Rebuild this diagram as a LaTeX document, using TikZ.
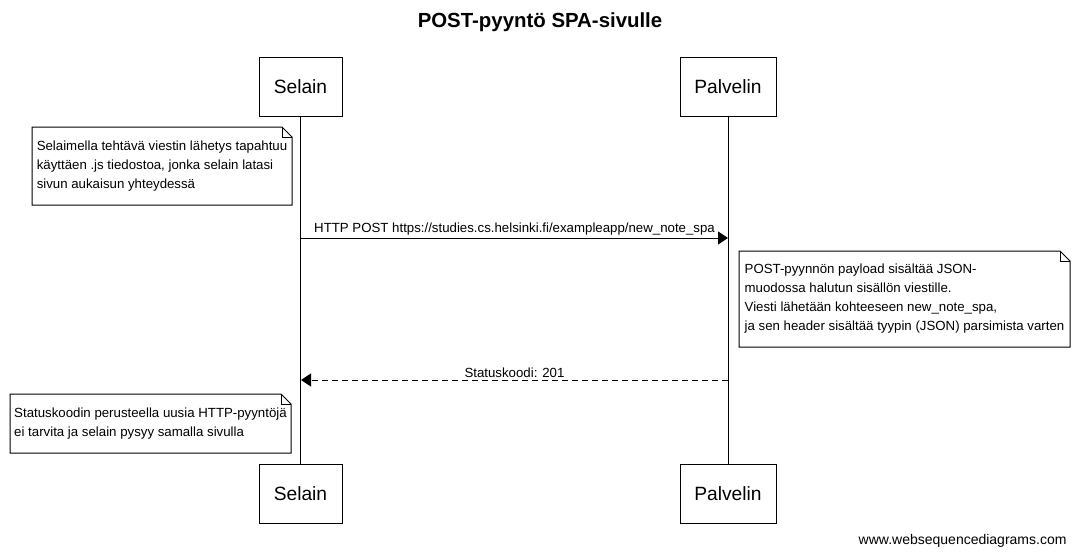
\documentclass[tikz,border=0pt]{standalone}
\usepackage{fontspec}
\setmainfont{Liberation Sans}
\usetikzlibrary{arrows.meta,calc}
\begin{document}
\begin{tikzpicture}[x=1pt,y=-1pt,line width=1pt,
	actor/.style={draw,minimum width=#1,minimum height=59,inner sep=0,font=\fontsize{19.2}{23}\selectfont},
	notebox/.style={anchor=north west,minimum height=#1,inner sep=0,align=left,font=\fontsize{13.25}{19}\selectfont},
	msg/.style={-{Triangle[length=10,width=13]}},
	msglabel/.style={above,inner sep=2,font=\fontsize{13.25}{15}\selectfont}]
	\useasboundingbox (0,0) rectangle (1077,557);
	\node[font=\bfseries\fontsize{20.4}{24}\selectfont] (title) at (540,22) {POST-pyyntö SPA-sivulle};
	% osapuolet
	\node[actor=83] (selainT) at (300.5,86.5) {Selain};
	\node[actor=96] (palvelinT) at (728,86.5) {Palvelin};
	\node[actor=83] (selainB) at (300.5,494) {Selain};
	\node[actor=96] (palvelinB) at (728,494) {Palvelin};
	\draw (selainT) -- (selainB);
	\draw (palvelinT) -- (palvelinB);
	% muistiinpanot
	\node[notebox=77,minimum width=259] (note1) at (32,127) {Selaimella tehtävä viestin lähetys tapahtuu\\käyttäen .js tiedostoa, jonka selain latasi\\sivun aukaisun yhteydessä};
	\node[notebox=95,minimum width=330] (note2) at (739,251) {POST-pyynnön payload sisältää JSON-\\muodossa halutun sisällön viestille.\\Viesti lähetään kohteeseen new\_note\_spa,\\ja sen header sisältää tyypin (JSON) parsimista varten};
	\node[notebox=58,minimum width=280] (note3) at (10,394) {Statuskoodin perusteella uusia HTTP-pyyntöjä\\ei tarvita ja selain pysyy samalla sivulla};
	\foreach \n in {note1,note2,note3} {
		\draw (\n.south west) -- (\n.north west) -- ($(\n.north east)+(-10,0)$) -- ($(\n.north east)+(0,10)$) -- (\n.south east) -- cycle;
		\draw ($(\n.north east)+(-10,0)$) -- ++(0,10) -- ++(10,0);
	}
	% viestit
	\coordinate (req1) at (301,238);
	\coordinate (req2) at (728,238);
	\coordinate (res1) at (728,380);
	\coordinate (res2) at (301,380);
	\draw[msg] (req1) -- node[msglabel] {HTTP POST https://studies.cs.helsinki.fi/exampleapp/new\_note\_spa} (req2);
	\draw[msg,dash pattern=on 6pt off 4pt] (res1) -- node[msglabel] {Statuskoodi: 201} (res2);
	\node[anchor=east,inner sep=0,font=\fontsize{14}{16}\selectfont] (credit) at (1067,541) {www.websequencediagrams.com};
\end{tikzpicture}
\end{document}
